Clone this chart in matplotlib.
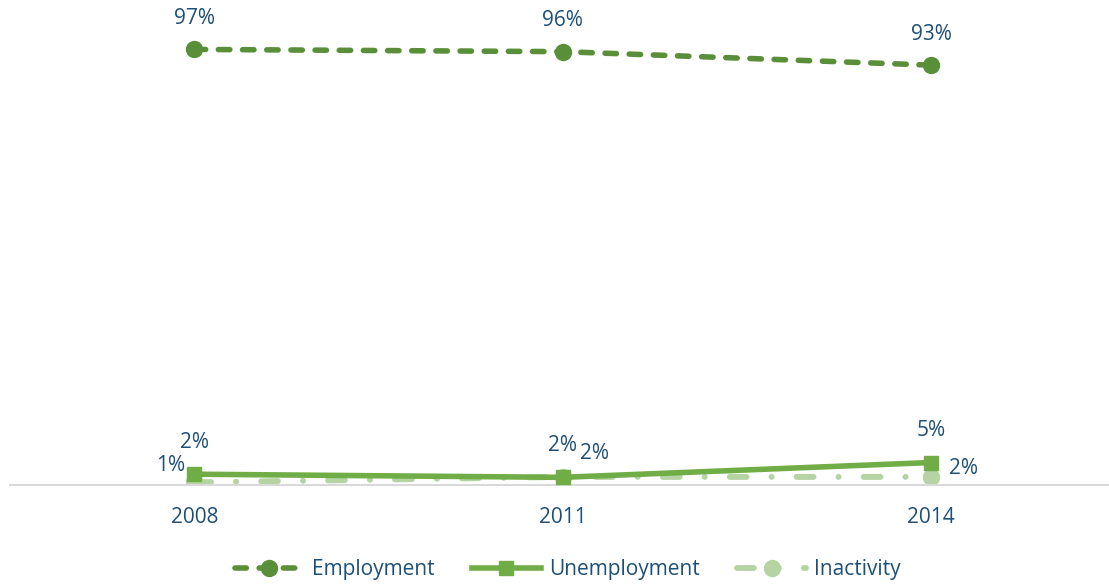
import matplotlib.pyplot as plt

# series values (share of working population, %)
years = ['2008', '2011', '2014']
employment = [96.8, 96.3, 93.3]
unemployment = [2.4, 1.7, 5.0]
inactivity = [0.6, 1.8, 1.8]

text_color = '#1D5078'
fs = 15
plt.rcParams['font.family'] = ['Open Sans', 'DejaVu Sans']

fig = plt.figure(figsize=(11.09, 5.86), dpi=100)
ax = fig.add_axes([10 / 1109, 101 / 586, 1105.5 / 1109, 450 / 586])

x = range(len(years))
ax.plot(x, employment, color='#5A8F3A', lw=4, dashes=(2.05, 2.3),
        dash_capstyle='round', marker='o', ms=11.5, label='Employment', zorder=3)
ax.plot(x, unemployment, color='#70AD47', lw=4, marker='s', ms=10.5,
        label='Unemployment', zorder=3)
ax.plot(x, inactivity, color='#B6D3A4', lw=4.3, dashes=(2.8, 4.2, 0.01, 4.2),
        dash_capstyle='round', marker='o', ms=11.5, label='Inactivity', zorder=2)

# data labels
def put(xi, yi, val, dx, dy, ha='center'):
    ax.annotate(f'{val:.0f}%', (xi, yi), xytext=(dx, dy), textcoords='offset pixels',
                ha=ha, va='center', fontsize=fs, color=text_color)

for i, v in enumerate(employment):
    put(i, v, v, 0, 31)
put(0, unemployment[0], unemployment[0], 0, 32)
put(1, unemployment[1], unemployment[1], 0, 32)
put(2, unemployment[2], unemployment[2], 0, 32)
put(0, inactivity[0], inactivity[0], -9, 17, ha='right')
put(1, inactivity[1], inactivity[1], 17, 23, ha='left')
put(2, inactivity[2], inactivity[2], 18, 8, ha='left')

ax.set_xlim(-0.5, 2.5)
ax.set_ylim(0, 100)
ax.set_xticks(list(x))
ax.set_xticklabels(years, fontsize=fs, color=text_color)
ax.tick_params(axis='x', length=0, pad=16)
ax.set_yticks([])
for s in ['top', 'right', 'left']:
    ax.spines[s].set_visible(False)
ax.spines['bottom'].set_color('#D9D9D9')
ax.spines['bottom'].set_linewidth(1.5)

fig.legend(loc='center', bbox_to_anchor=(0.512, 1 - 570 / 586), ncol=3, frameon=False,
           fontsize=fs, labelcolor=text_color, handlelength=3.3, columnspacing=1.8,
           handletextpad=0.4)

fig.savefig('out.png', dpi=100)
